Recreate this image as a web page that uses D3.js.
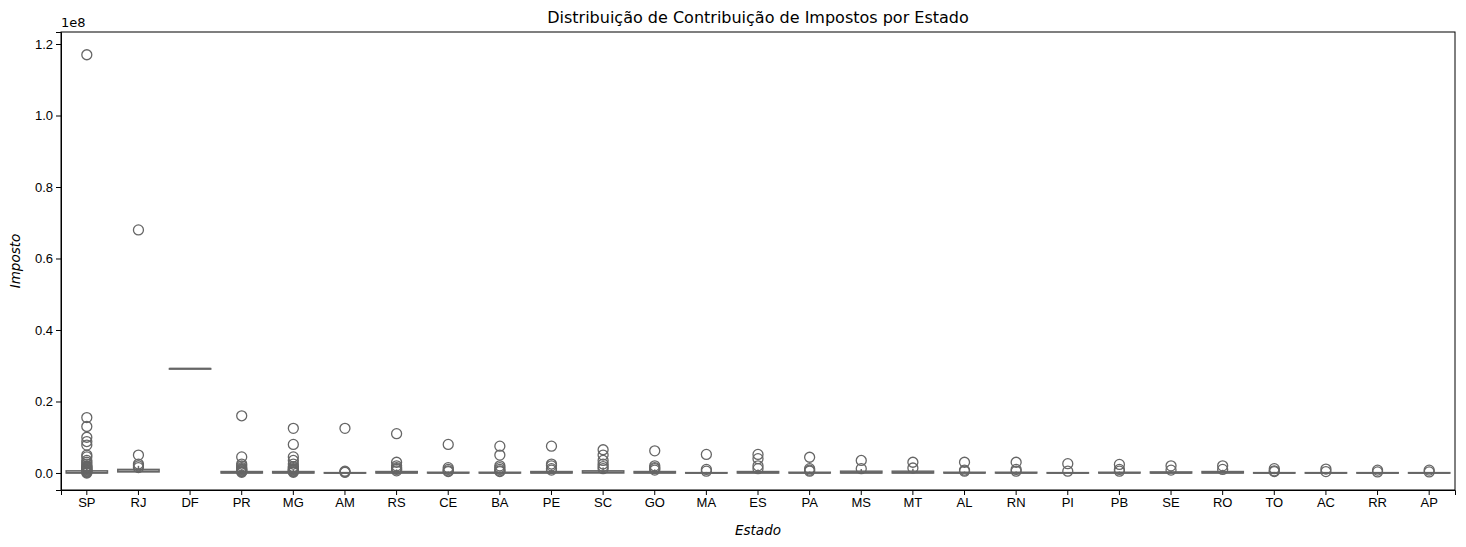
<!DOCTYPE html>
<html><head><meta charset="utf-8">
<script src="https://cdn.jsdelivr.net/npm/d3@7"></script>
<style>body{margin:0;background:#fff;font-family:"DejaVu Sans",sans-serif}</style>
</head><body><div id="chart"></div>
<script>
// values in millions
const estados = ["SP","RJ","DF","PR","MG","AM","RS","CE","BA","PE","SC","GO","MA","ES","PA","MS","MT","AL","RN","PI","PB","SE","RO","TO","AC","RR","AP"];
const q1 = [0,0.3,29.2,0,0,0,0,0,0,0,0,0,0,0,0,0,0,0,0,0,0,0,0,0,0,0,0];
const med = [0.1,0.5,29.2,0.1,0.1,0,0.1,0,0,0.1,0.2,0.1,0,0.1,0,0.1,0.1,0,0,0,0,0,0.1,0,0,0,0];
const q3 = [0.6,1.0,29.2,0.4,0.4,0.1,0.4,0.2,0.2,0.4,0.6,0.4,0.1,0.4,0.2,0.5,0.5,0.2,0.2,0.1,0.2,0.3,0.4,0.1,0.1,0.1,0.1];
const whiskHi = [1.5,2,29.2,1,1,0.2,1,0.4,0.4,1,1.5,1,0.3,1,0.4,1.1,1.2,0.4,0.4,0.3,0.4,0.6,0.9,0.3,0.3,0.2,0.2];
const outliers = [
  [117,15.5,13,10,8.8,7.8,5,4.5,3.5,3,2.5,2,1.8,1.6,1.4,1.2,1.0,0.8,0.6,0.4,0.2,0],
  [68,5,2.5,2,1.5],
  [],
  [16,4.5,2.5,2,1.5,1.2,1,0.8,0.6,0.4,0.2],
  [12.5,8,4.5,3.5,2.5,1.8,1.5,1.2,1,0.8,0.6,0.4,0.2],
  [12.5,0.5,0.3,0.2],
  [11,3,2,1.5,1.2,1,0.6],
  [8,1.5,1,0.6,0.4],
  [7.5,5,2,1.5,1,0.6,0.4],
  [7.5,2.5,2,1.2,0.8],
  [6.5,5,3.5,2.5,1.8,1.2],
  [6.2,2,1.5,1.2,0.8],
  [5.2,1,0.5],
  [5.2,4,2,1.2],
  [4.4,1.2,0.8,0.5],
  [3.5,1.2],
  [3,1.4],
  [3,0.8,0.5],
  [3,1,0.5],
  [2.6,0.5],
  [2.4,1,0.5],
  [2,0.8],
  [2,1],
  [1.2,0.6,0.4],
  [1.1,0.4],
  [0.8,0.3],
  [0.8,0.3]
];
const yTicks = [0,0.2,0.4,0.6,0.8,1.0,1.2];

const svg = d3.select("#chart").append("svg").attr("width",1466).attr("height",547);
const margin = {left:61, right:11, top:32, bottom:57};
const width = 1466 - margin.left - margin.right, height = 547 - margin.top - margin.bottom;
const x = d3.scaleBand().domain(estados).range([0,width]);
const y = d3.scaleLinear().domain([-0.0476,1.2336]).range([height,0]);
const g = svg.append("g").attr("transform",`translate(${margin.left},${margin.top})`);
const v = m => y(m/100);
const bw = x.bandwidth()*0.8;

estados.forEach((e,i) => {
  const cx = x(e) + x.bandwidth()/2;
  const grp = g.append("g");
  grp.append("line").attr("x1",cx).attr("x2",cx).attr("y1",v(q3[i])).attr("y2",v(whiskHi[i])).attr("stroke","#666").attr("stroke-width",1.5);
  grp.append("rect").attr("x",cx-bw/2).attr("width",bw)
    .attr("y",v(q3[i])).attr("height",Math.max(0.5,v(q1[i])-v(q3[i])))
    .attr("fill","#d3d3d3").attr("stroke","#666").attr("stroke-width",1.5);
  grp.append("line").attr("x1",cx-bw/2).attr("x2",cx+bw/2).attr("y1",v(med[i])).attr("y2",v(med[i])).attr("stroke","#666").attr("stroke-width",1.5);
  grp.selectAll("circle").data(outliers[i]).enter().append("circle")
    .attr("cx",cx).attr("cy",d=>v(d)).attr("r",5)
    .attr("fill","none").attr("stroke","#666").attr("stroke-width",1.3);
});

g.append("g").attr("transform",`translate(0,${height})`).call(d3.axisBottom(x).tickSizeOuter(0).tickSize(5))
  .call(a=>a.selectAll("text").attr("font-size",13).attr("fill","#000"));
g.append("g").call(d3.axisLeft(y).tickValues(yTicks).tickFormat(d3.format(".1f")).tickSizeOuter(0).tickSize(5))
  .call(a=>a.selectAll("text").attr("font-size",13).attr("fill","#000"));
g.append("rect").attr("width",width).attr("height",height).attr("fill","none").attr("stroke","#000");

svg.append("text").attr("x",margin.left+width/2).attr("y",23).attr("text-anchor","middle").attr("font-size",16).text("Distribuição de Contribuição de Impostos por Estado");
svg.append("text").attr("x",margin.left+width/2).attr("y",535).attr("text-anchor","middle").attr("font-size",13.5).attr("font-style","italic").text("Estado");
svg.append("text").attr("transform",`translate(20,${margin.top+height/2}) rotate(-90)`).attr("text-anchor","middle").attr("font-size",13.5).attr("font-style","italic").text("Imposto");
svg.append("text").attr("x",margin.left).attr("y",27).attr("font-size",13).text("1e8");
</script></body></html>
